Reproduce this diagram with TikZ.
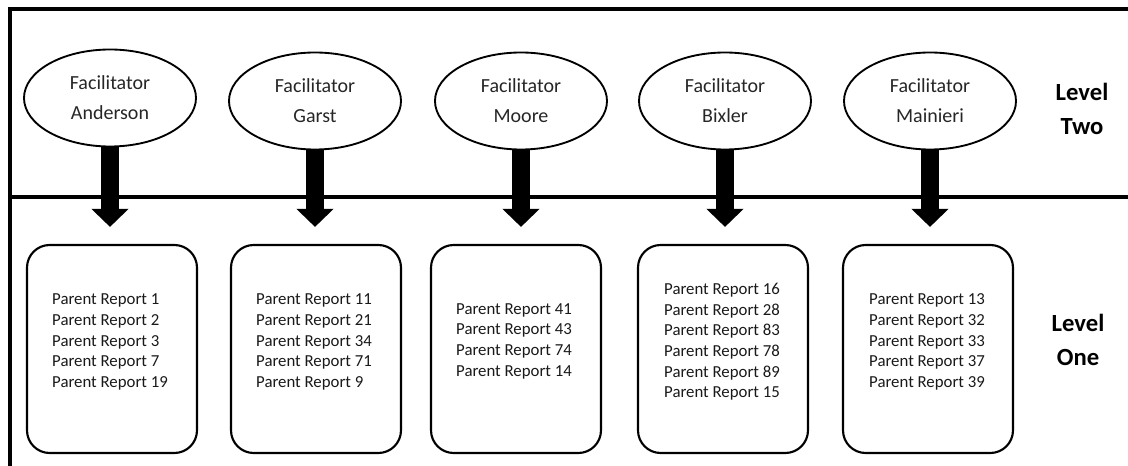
\documentclass[tikz,border=0pt]{standalone}
\usepackage{fontspec}
\setmainfont{Carlito}
\usetikzlibrary{arrows.meta,shapes.geometric}
\begin{document}
\begin{tikzpicture}[x=0.75pt,y=-0.75pt,
  frame/.style={line width=3pt,line cap=rect},
  fac/.style={ellipse,draw,line width=1.4pt,minimum width=129pt,minimum height=72.75pt,inner sep=0pt,align=center,
    font=\fontsize{15}{22.5}\selectfont,text=black!85},
  repbox/.style={draw,line width=1.6pt,rounded corners=17pt,minimum width=127.5pt,minimum height=156pt,inner sep=0pt},
  reptext/.style={align=left,inner sep=0pt,font=\fontsize{12.6}{15.5}\selectfont,text=black!90},
  lvl/.style={align=center,font=\fontsize{18.5}{25.5}\selectfont\bfseries},
  bigarrow/.style={line width=13.5pt,-{Triangle[width=27pt,length=13.5pt]},shorten >=12.75pt}
]
\useasboundingbox (0,0) rectangle (1128,466);
\coordinate (fl) at (10,466);
\coordinate (ftl) at (10,9);
\coordinate (ftr) at (1130,9);
\coordinate (ml) at (10,197);
\coordinate (mr) at (1130,197);
\draw[frame] (fl) -- (ftl) -- (ftr);
\draw[frame] (ml) -- (mr);

\node[fac] (e1) at (110,98) {Facilitator\\Anderson};
\node[fac] (e2) at (315,101) {Facilitator\\Garst};
\node[fac] (e3) at (521,101) {Facilitator\\Moore};
\node[fac] (e4) at (725,101) {Facilitator\\Bixler};
\node[fac] (e5) at (930,101) {Facilitator\\Mainieri};

\node[repbox] (b1) at (112,349) {};
\node[repbox] (b2) at (316,349) {};
\node[repbox] (b3) at (516,349) {};
\node[repbox] (b4) at (723,349) {};
\node[repbox] (b5) at (928,349) {};

\node[reptext] (t1) at (110,342) {Parent Report 1\\Parent Report 2\\Parent Report 3\\Parent Report 7\\Parent Report 19};
\node[reptext] (t2) at (314,342) {Parent Report 11\\Parent Report 21\\Parent Report 34\\Parent Report 71\\Parent Report 9};
\node[reptext] (t3) at (514,341) {Parent Report 41\\Parent Report 43\\Parent Report 74\\Parent Report 14};
\node[reptext] (t4) at (722,342) {Parent Report 16\\Parent Report 28\\Parent Report 83\\Parent Report 78\\Parent Report 89\\Parent Report 15};
\node[reptext] (t5) at (927,342) {Parent Report 13\\Parent Report 32\\Parent Report 33\\Parent Report 37\\Parent Report 39};

\foreach \i in {1,...,5}{
  \draw[bigarrow] (e\i.south) -- (e\i.south |- b\i.north);
}

\node[lvl] (l2) at (1082,109) {Level\\Two};
\node[lvl] (l1) at (1078,340) {Level\\One};
\end{tikzpicture}
\end{document}
